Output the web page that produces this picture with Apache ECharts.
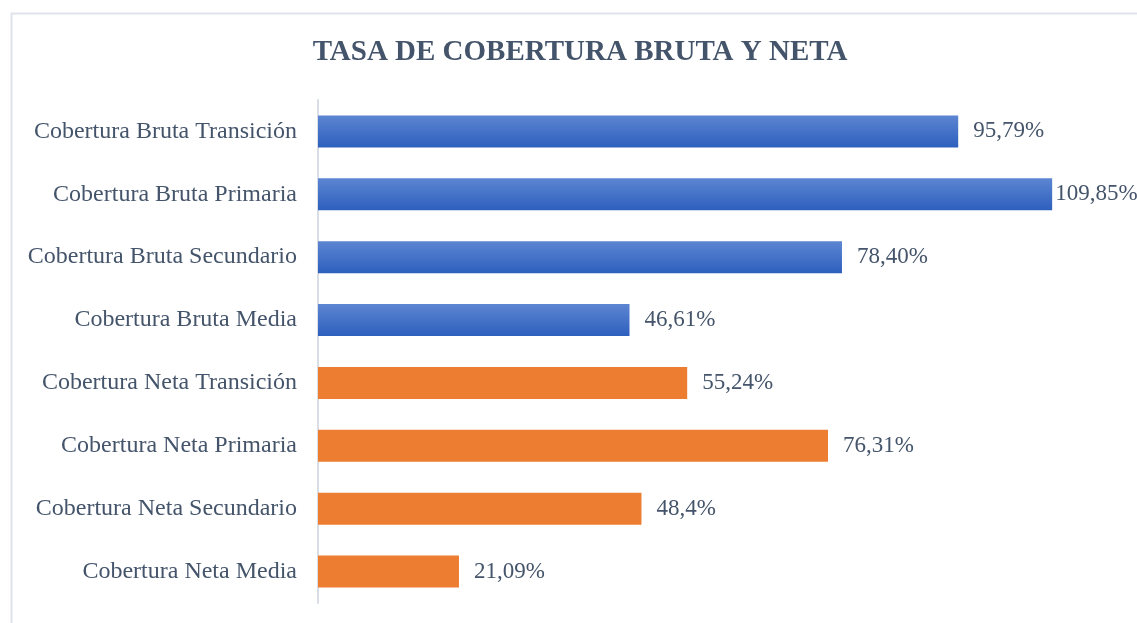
<!DOCTYPE html>
<html>
<head>
<meta charset="utf-8">
<script src="https://cdn.jsdelivr.net/npm/echarts@6/dist/echarts.min.js"></script>
<style>
	html, body { margin: 0; padding: 0; background: #fff; }
	#chart { width: 1137px; height: 623px; }
</style>
</head>
<body>
<div id="chart"></div>
<script>
var categories = ['Cobertura Bruta Transición', 'Cobertura Bruta Primaria', 'Cobertura Bruta Secundario', 'Cobertura Bruta Media',
	'Cobertura Neta Transición', 'Cobertura Neta Primaria', 'Cobertura Neta Secundario', 'Cobertura Neta Media'];
var values = [95.79, 109.85, 78.40, 46.61, 55.24, 76.31, 48.4, 21.09];
var valueLabels = ['95,79%', '109,85%', '78,40%', '46,61%', '55,24%', '76,31%', '48,4%', '21,09%'];
var groups = ['bruta', 'bruta', 'bruta', 'bruta', 'neta', 'neta', 'neta', 'neta'];

var textColor = '#44546a';
var serif = "'Liberation Serif', 'DejaVu Serif', serif";

var blueFill = new echarts.graphic.LinearGradient(0, 0, 0, 1, [
	{ offset: 0, color: '#5d86d2' },
	{ offset: 1, color: '#2d5fbd' }
]);

var seriesData = [];
values.forEach(function (v, i) {
	var obj = {};
	obj.value = v;
	obj.itemStyle = { color: groups[i] == 'bruta' ? blueFill : '#ed7d31' };
	if (v > 100) {
		obj.label = { distance: 3 };
	}
	seriesData.push(obj);
});

var chart = echarts.init(document.getElementById('chart'));
var option = {
	animation: false,
	title: {
		text: 'TASA DE COBERTURA BRUTA Y NETA',
		left: 575,
		textAlign: 'center',
		top: 33,
		textStyle: {
			fontFamily: serif,
			fontSize: 29,
			fontWeight: 'bold',
			color: textColor
		}
	},
	graphic: [{
		type: 'rect',
		shape: { x: 11.5, y: 13.5, width: 1200, height: 700 },
		style: { fill: 'none', stroke: '#dfe3eb', lineWidth: 2 },
		silent: true
	}],
	grid: {
		left: 318,
		top: 100,
		width: 802,
		height: 503
	},
	xAxis: {
		type: 'value',
		min: 0,
		max: 120,
		show: false
	},
	yAxis: {
		type: 'category',
		inverse: true,
		data: categories,
		axisLine: { lineStyle: { color: '#d9dde6', width: 2 } },
		axisTick: { show: false },
		axisLabel: {
			margin: 21,
			fontFamily: serif,
			fontSize: 24,
			color: textColor
		}
	},
	series: [{
		type: 'bar',
		barWidth: 32,
		data: seriesData,
		label: {
			show: true,
			position: 'right',
			distance: 15,
			fontFamily: serif,
			fontSize: 23,
			color: textColor,
			formatter: function (params) {
				return valueLabels[params.dataIndex];
			}
		}
	}]
};
chart.setOption(option);
</script>
</body>
</html>
